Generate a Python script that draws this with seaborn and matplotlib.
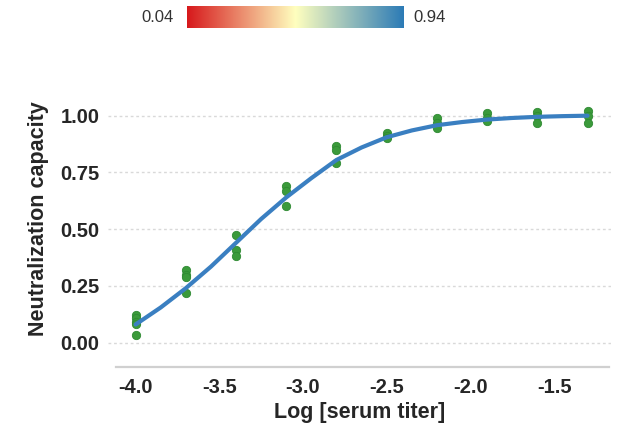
import numpy as np
import pandas as pd
import matplotlib
matplotlib.use("Agg")
import matplotlib.pyplot as plt
from matplotlib.colors import LinearSegmentedColormap
import seaborn as sns

# ------------------------------------------------------
# Data
# ------------------------------------------------------
# replicate measurements at each serum dilution
log_titer = [-4.0] * 5 + [-3.7] * 4 + [-3.4] * 3 + [-3.1] * 3 + [-2.8] * 3 \
    + [-2.5] * 3 + [-2.2] * 3 + [-1.9] * 3 + [-1.6] * 3 + [-1.3] * 3
neutralization = [0.12, 0.11, 0.09, 0.08, 0.035,
                  0.32, 0.30, 0.29, 0.22,
                  0.475, 0.41, 0.38,
                  0.69, 0.67, 0.60,
                  0.865, 0.85, 0.79,
                  0.925, 0.91, 0.90,
                  0.99, 0.97, 0.945,
                  1.01, 0.99, 0.975,
                  1.015, 1.00, 0.97,
                  1.02, 1.00, 0.97]

# fitted dose-response curve
fit_x = [-4.00, -3.85, -3.70, -3.55, -3.40, -3.25, -3.10, -2.95, -2.80, -2.65,
         -2.50, -2.35, -2.20, -2.05, -1.90, -1.75, -1.60, -1.45, -1.30]
fit_y = [0.08, 0.155, 0.24, 0.335, 0.44, 0.545, 0.64, 0.725, 0.805, 0.86,
         0.905, 0.935, 0.958, 0.972, 0.983, 0.99, 0.995, 0.998, 1.0]

y_ticks = [0.00, 0.25, 0.50, 0.75, 1.00]
x_ticks = [-4.0, -3.5, -3.0, -2.5, -2.0, -1.5]
cbar_range = [0.04, 0.94]

points = pd.DataFrame({"log_titer": log_titer, "neutralization": neutralization})
curve = pd.DataFrame({"log_titer": fit_x, "neutralization": fit_y})

# ------------------------------------------------------
# Plot
# ------------------------------------------------------
sns.set_style("white")
plt.rcParams["font.family"] = ["Liberation Sans", "DejaVu Sans"]

fig = plt.figure(figsize=(6.26, 4.32), dpi=100)
ax = fig.add_axes([108 / 626, 1 - 366.7 / 432, 503 / 626, 273.7 / 432])

ax.set_axisbelow(True)
for t in y_ticks:
    ax.axhline(t, color="#d9d9d9", lw=1, ls=(0, (2, 2)), zorder=0)

sns.scatterplot(data=points, x="log_titer", y="neutralization", ax=ax,
                color="#3b9a3b", edgecolor="#2e8a32", linewidth=0.6, s=36, zorder=2)
sns.lineplot(data=curve, x="log_titer", y="neutralization", ax=ax,
             color="#3a7fc1", lw=3, zorder=3)

ax.set_xlim(-4.165, -1.16)
ax.set_ylim(-0.106, 1.1)
ax.set_xticks(x_ticks)
ax.set_yticks(y_ticks)
ax.set_xticklabels([f"{t:.1f}" for t in x_ticks], fontsize=14.5, fontweight="bold")
ax.set_yticklabels([f"{t:.2f}" for t in y_ticks], fontsize=14.5, fontweight="bold")
ax.tick_params(axis="both", length=0)
ax.tick_params(axis="x", pad=8)
ax.tick_params(axis="y", pad=6)

ax.set_xlabel("Log [serum titer]", fontsize=15.5, fontweight="bold", labelpad=4)
ax.set_ylabel("Neutralization capacity", fontsize=15.5, fontweight="bold")
ax.yaxis.set_label_coords(-0.117, 0.54)

for side in ["top", "right", "left"]:
    ax.spines[side].set_visible(False)
ax.spines["bottom"].set_color("#d0d0d0")
ax.spines["bottom"].set_linewidth(1.6)
ax.spines["bottom"].set_bounds(-4.117, -1.17)

# colour scale legend at the top
cmap = LinearSegmentedColormap.from_list("rdylbu3", ["#d7191c", "#ffffbf", "#2c7bb6"])
cax = fig.add_axes([186.7 / 626, 1 - 28 / 432, 216.3 / 626, 22 / 432])
cax.imshow(np.linspace(cbar_range[0], cbar_range[1], 256)[None, :], aspect="auto",
           cmap=cmap, vmin=cbar_range[0], vmax=cbar_range[1])
cax.set_axis_off()
fig.text(158 / 626, 1 - 18 / 432, f"{cbar_range[0]:.2f}", ha="center", va="center",
         fontsize=12, color="#333333")
fig.text(430 / 626, 1 - 18 / 432, f"{cbar_range[1]:.2f}", ha="center", va="center",
         fontsize=12, color="#333333")

fig.savefig("out.png", dpi=100)
